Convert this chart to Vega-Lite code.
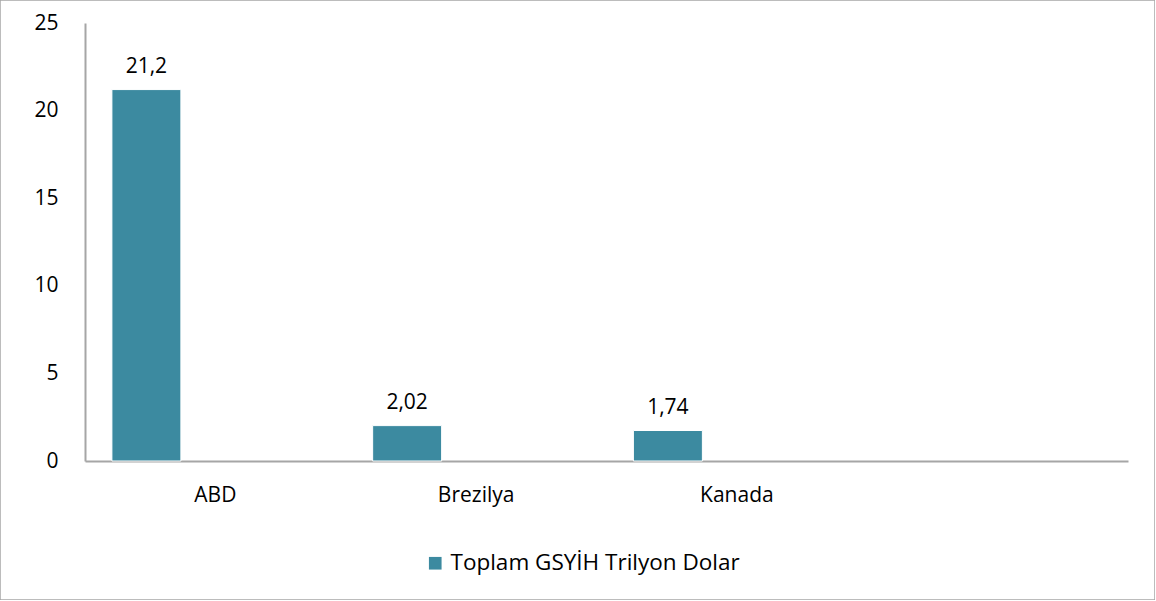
{
  "$schema": "https://vega.github.io/schema/vega-lite/v6.json",
  "width": 1155,
  "height": 600,
  "autosize": "none",
  "padding": 0,
  "background": "white",
  "config": {
    "font": "Open Sans",
    "view": {"stroke": "#a6a6a6", "strokeWidth": 1.5},
    "locale": {"number": {"decimal": ",", "thousands": ".", "grouping": [3], "currency": ["", " TL"]}}
  },
  "data": {
    "values": [
      {"ulke": "ABD", "seri": "Toplam GSYİH Trilyon Dolar", "deger": 21.2},
      {"ulke": "Brezilya", "seri": "Toplam GSYİH Trilyon Dolar", "deger": 2.02},
      {"ulke": "Kanada", "seri": "Toplam GSYİH Trilyon Dolar", "deger": 1.74}
    ]
  },
  "encoding": {
    "x": {
      "field": "ulke",
      "type": "nominal",
      "scale": {"domain": ["ABD", "Brezilya", "Kanada", " "], "range": [85, 1128], "paddingInner": 0, "paddingOuter": 0},
      "axis": {
        "title": null, "orient": "bottom", "offset": -139, "labelAngle": 0,
        "ticks": false, "domainColor": "#a6a6a6", "domainWidth": 2,
        "labelFont": "Open Sans", "labelFontSize": 21, "labelColor": "#000000", "labelPadding": 23
      }
    },
    "xOffset": {
      "field": "seri",
      "type": "nominal",
      "scale": {"domain": ["Toplam GSYİH Trilyon Dolar", "b", "c"], "paddingInner": 0, "paddingOuter": 0.39}
    },
    "y": {
      "field": "deger",
      "type": "quantitative",
      "scale": {"domain": [0, 25], "range": [461, 23], "nice": false},
      "axis": {
        "title": null, "offset": -85, "values": [0, 5, 10, 15, 20, 25], "grid": false,
        "ticks": false, "domainColor": "#a6a6a6", "domainWidth": 2,
        "labelFont": "Open Sans", "labelFontSize": 21, "labelColor": "#000000", "labelPadding": 27
      }
    }
  },
  "layer": [
    {
      "mark": {"type": "bar", "stroke": "#ffffff", "strokeWidth": 1},
      "encoding": {
        "color": {
          "field": "seri",
          "type": "nominal",
          "scale": {"domain": ["Toplam GSYİH Trilyon Dolar"], "range": ["#3c8aa0"]},
          "legend": {
            "title": null, "orient": "none", "legendX": 424, "legendY": 552,
            "symbolType": "square", "symbolSize": 160, "symbolStrokeWidth": 0,
            "labelFont": "Open Sans", "labelFontSize": 22.5, "labelColor": "#000000", "labelOffset": 4, "labelLimit": 0
          }
        }
      }
    },
    {
      "mark": {"type": "text", "baseline": "bottom", "dy": -13, "font": "Open Sans", "fontSize": 21, "color": "#000000"},
      "encoding": {
        "text": {"field": "deger", "type": "quantitative", "format": "~g"}
      }
    }
  ]
}
